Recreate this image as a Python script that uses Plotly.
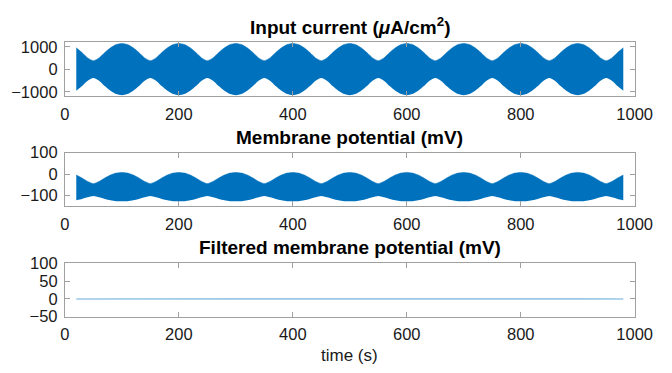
import plotly.graph_objects as go

# Sample times (s) for the envelope readings
time = list(range(20, 990, 10))

# Input current envelope (uA/cm^2), one row per 100 s
current_upper = [
    955, 745, 505, 385, 505, 745, 955, 1100,
    1150, 1100, 955, 745, 505, 385, 505, 745, 955, 1100,
    1150, 1100, 955, 745, 505, 385, 505, 745, 955, 1100,
    1150, 1100, 955, 745, 505, 385, 505, 745, 955, 1100,
    1150, 1100, 955, 745, 505, 385, 505, 745, 955, 1100,
    1150, 1100, 955, 745, 505, 385, 505, 745, 955, 1100,
    1150, 1100, 955, 745, 505, 385, 505, 745, 955, 1100,
    1150, 1100, 955, 745, 505, 385, 505, 745, 955, 1100,
    1150, 1100, 955, 745, 505, 385, 505, 745, 955, 1100,
    1150, 1100, 955, 745, 505, 385, 505, 745, 955,
]
current_lower = [
    -955, -745, -505, -385, -505, -745, -955, -1100,
    -1150, -1100, -955, -745, -505, -385, -505, -745, -955, -1100,
    -1150, -1100, -955, -745, -505, -385, -505, -745, -955, -1100,
    -1150, -1100, -955, -745, -505, -385, -505, -745, -955, -1100,
    -1150, -1100, -955, -745, -505, -385, -505, -745, -955, -1100,
    -1150, -1100, -955, -745, -505, -385, -505, -745, -955, -1100,
    -1150, -1100, -955, -745, -505, -385, -505, -745, -955, -1100,
    -1150, -1100, -955, -745, -505, -385, -505, -745, -955, -1100,
    -1150, -1100, -955, -745, -505, -385, -505, -745, -955, -1100,
    -1150, -1100, -955, -745, -505, -385, -505, -745, -955,
]

# Membrane potential envelope (mV)
membrane_upper = [
    -4, -18, -34, -44, -34, -18, -4, 5,
    8, 5, -4, -18, -34, -44, -34, -18, -4, 5,
    8, 5, -4, -18, -34, -44, -34, -18, -4, 5,
    8, 5, -4, -18, -34, -44, -34, -18, -4, 5,
    8, 5, -4, -18, -34, -44, -34, -18, -4, 5,
    8, 5, -4, -18, -34, -44, -34, -18, -4, 5,
    8, 5, -4, -18, -34, -44, -34, -18, -4, 5,
    8, 5, -4, -18, -34, -44, -34, -18, -4, 5,
    8, 5, -4, -18, -34, -44, -34, -18, -4, 5,
    8, 5, -4, -18, -34, -44, -34, -18, -4,
]
membrane_lower = [
    -122, -116, -108, -102, -108, -116, -122, -126,
    -127, -126, -122, -116, -108, -102, -108, -116, -122, -126,
    -127, -126, -122, -116, -108, -102, -108, -116, -122, -126,
    -127, -126, -122, -116, -108, -102, -108, -116, -122, -126,
    -127, -126, -122, -116, -108, -102, -108, -116, -122, -126,
    -127, -126, -122, -116, -108, -102, -108, -116, -122, -126,
    -127, -126, -122, -116, -108, -102, -108, -116, -122, -126,
    -127, -126, -122, -116, -108, -102, -108, -116, -122, -126,
    -127, -126, -122, -116, -108, -102, -108, -116, -122, -126,
    -127, -126, -122, -116, -108, -102, -108, -116, -122,
]

# Filtered membrane potential (mV)
filtered_time = [20, 100, 200, 300, 400, 500, 600, 700, 800, 900, 980]
filtered_mv = [0.0, 0.2, -0.2, 0.1, -0.1, 0.2, -0.2, 0.1, -0.1, 0.2, 0.0]

x_ticks = [0, 200, 400, 600, 800, 1000]
y_ticks_current = [-1000, 0, 1000]
y_ticks_membrane = [-100, 0, 100]
y_ticks_filtered = [-50, 0, 50, 100]

BLUE = "#0072BD"
AXIS_GREY = "#a0a0a0"
FONT = "Liberation Sans, Arial, Helvetica, sans-serif"

fig = go.Figure()

# Input current band
fig.add_trace(go.Scatter(x=time, y=current_lower, mode="lines", line=dict(width=0, color=BLUE, shape="spline", smoothing=0.6),
                         xaxis="x", yaxis="y", showlegend=False, hoverinfo="skip"))
fig.add_trace(go.Scatter(x=time, y=current_upper, mode="lines", line=dict(width=0.5, color=BLUE, shape="spline", smoothing=0.6),
                         fill="tonexty", fillcolor=BLUE, xaxis="x", yaxis="y", showlegend=False))

# Membrane potential band
fig.add_trace(go.Scatter(x=time, y=membrane_lower, mode="lines", line=dict(width=0, color=BLUE, shape="spline", smoothing=0.6),
                         xaxis="x2", yaxis="y2", showlegend=False, hoverinfo="skip"))
fig.add_trace(go.Scatter(x=time, y=membrane_upper, mode="lines", line=dict(width=0.5, color=BLUE, shape="spline", smoothing=0.6),
                         fill="tonexty", fillcolor=BLUE, xaxis="x2", yaxis="y2", showlegend=False))

# Filtered trace
fig.add_trace(go.Scatter(x=filtered_time, y=filtered_mv, mode="lines", line=dict(width=1.6, color="rgba(0,114,189,0.4)"),
                         xaxis="x3", yaxis="y3", showlegend=False))

W, H = 672, 373
x_dom = [62 / W, 652 / W]


def ydom(top_px, bottom_px):
    return [1 - bottom_px / H, 1 - top_px / H]


axis_common = dict(
    showline=True, linecolor=AXIS_GREY, linewidth=1, mirror="allticks",
    ticks="inside", ticklen=5, tickcolor=AXIS_GREY, tickwidth=1,
    showgrid=False, zeroline=False,
    tickfont=dict(family=FONT, size=16.5, color="#1a1a1a"),
)
x_common = dict(axis_common, range=[0, 1000], tickvals=x_ticks, ticklabelstandoff=3)
y_common = dict(axis_common, ticklabelstandoff=3)

fig.update_layout(
    width=W, height=H,
    margin=dict(l=0, r=0, t=0, b=0),
    paper_bgcolor="white", plot_bgcolor="white",
    font=dict(family=FONT, color="#1a1a1a"),
    xaxis=dict(domain=x_dom, anchor="y", **x_common),
    yaxis=dict(domain=ydom(35, 91.7), anchor="x", range=[-1200, 1200], tickvals=y_ticks_current, **y_common),
    xaxis2=dict(domain=x_dom, anchor="y2", **x_common),
    yaxis2=dict(domain=ydom(151, 207.3), anchor="x2", range=[-150, 100], tickvals=y_ticks_membrane, **y_common),
    xaxis3=dict(domain=x_dom, anchor="y3", **x_common),
    yaxis3=dict(domain=ydom(267.3, 323.3), anchor="x3", range=[-50, 100], tickvals=y_ticks_filtered, **y_common),
)

title_font = dict(family=FONT, size=19, color="black")
x_center = (x_dom[0] + x_dom[1]) / 2
# Titles are anchored at the bottom of their text box so the baseline sits ~7 px above each panel
for label, bottom_px in [
    ("<b>Input current (<i>μ</i>A/cm<sup>2</sup>)</b>", 33),
    ("<b>Membrane potential (mV)</b>", 148.3),
    ("<b>Filtered membrane potential (mV)</b>", 263.3),
]:
    fig.add_annotation(text=label, x=x_center, y=1 - bottom_px / H,
                       xref="paper", yref="paper", xanchor="center", yanchor="bottom",
                       showarrow=False, font=title_font)
fig.add_annotation(text="time (s)", x=x_center, y=1 - 364 / H,
                   xref="paper", yref="paper", xanchor="center", yanchor="middle", showarrow=False,
                   font=dict(family=FONT, size=17, color="#1a1a1a"))

# Place the figure flush with the page edges
fig.write_html("out.html", post_script="document.body.style.margin='0';document.body.style.overflow='hidden';")
